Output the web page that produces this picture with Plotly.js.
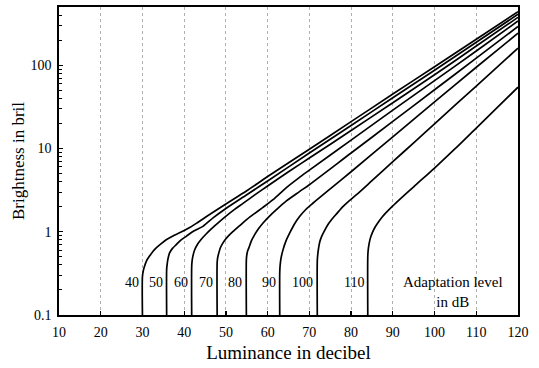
<!DOCTYPE html>
<html><head><meta charset="utf-8">
<script src="https://cdn.plot.ly/plotly-3.0.1.min.js"></script>
<style>html,body{margin:0;padding:0;background:#fff;}#chart{width:539px;height:368px;}</style>
</head><body><div id="chart"></div>
<script>
// Adaptation levels (dB) -> curve labels
const levels = ['40', '50', '60', '70', '80', '90', '100', '110'];

// Luminance (dB) and brightness (bril), one pair per adaptation level
const x40 = [30, 30, 30.2, 30.5, 31.0, 31.7, 32.5, 33.3, 34.5, 35.7, 37.3, 38.9, 41, 43, 46, 50, 55, 60, 70, 80, 90, 100, 110, 120];
const y40 = [0.1, 0.29, 0.34, 0.385, 0.45, 0.51, 0.58, 0.64, 0.72, 0.80, 0.89, 0.97, 1.1, 1.27, 1.6, 2.15, 3.1, 4.6, 9.8, 21, 45, 96, 205, 440];

const x50 = [35.8, 35.8, 35.9, 36.1, 36.5, 37.2, 38.1, 39.2, 40.5, 42.3, 44.5, 47, 50, 55, 60, 70, 80, 90, 100, 110, 120];
const y50 = [0.1, 0.355, 0.398, 0.468, 0.557, 0.631, 0.700, 0.794, 0.881, 1.023, 1.161, 1.479, 1.905, 2.786, 4.074, 8.81, 18.84, 40.74, 87.1, 188.4, 409.3];

const x60 = [41.8, 41.8, 41.9, 42.1, 42.5, 43.2, 44.1, 45.2, 46.5, 48.2, 50.1, 52, 54.1, 57, 60, 65, 70, 80, 90, 100, 110, 120];
const y60 = [0.1, 0.380, 0.447, 0.513, 0.603, 0.708, 0.813, 0.933, 1.084, 1.288, 1.549, 1.841, 2.188, 2.786, 3.548, 5.248, 7.674, 16.41, 35.48, 76.74, 169.8, 375.8];

const x70 = [47.9, 47.9, 48.0, 48.3, 48.7, 49.3, 50.0, 50.9, 52, 53.3, 54.8, 56.5, 58.8, 61.3, 64.5, 67.7, 70, 80, 90, 100, 110, 120];
const y70 = [0.1, 0.423, 0.479, 0.557, 0.646, 0.735, 0.822, 0.923, 1.035, 1.183, 1.380, 1.603, 1.950, 2.427, 3.388, 4.519, 5.495, 12.59, 28.84, 65.31, 147.9, 339.6];

const x80 = [54.9, 54.9, 55.0, 55.2, 55.5, 56.1, 56.9, 57.8, 58.9, 60.4, 62.1, 64.5, 67.7, 70, 80, 90, 100, 110, 120];
const y80 = [0.1, 0.462, 0.525, 0.589, 0.640, 0.776, 0.923, 1.084, 1.274, 1.531, 1.841, 2.344, 3.048, 3.673, 8.81, 21.13, 50.70, 121.6, 291.7];

const x90 = [62.9, 62.9, 63.0, 63.2, 63.7, 64.4, 65.3, 66.4, 67.7, 69.2, 70.9, 75, 80, 90, 100, 110, 120];
const y90 = [0.1, 0.324, 0.398, 0.479, 0.610, 0.776, 0.968, 1.230, 1.531, 1.862, 2.213, 3.273, 5.248, 13.80, 36.31, 94.41, 242.1];

const x100 = [71.9, 71.9, 72.0, 72.2, 72.5, 73.0, 73.7, 74.5, 75.3, 76.6, 78.1, 79.6, 81.3, 85, 90, 95, 100, 110, 120];
const y100 = [0.1, 0.447, 0.525, 0.631, 0.759, 0.891, 1.047, 1.230, 1.396, 1.660, 2.018, 2.371, 2.786, 4.102, 6.934, 11.70, 19.77, 56.23, 160.0];

const x110 = [84, 84, 84.1, 84.3, 84.6, 85.1, 85.8, 86.6, 87.5, 88.5, 90, 91.6, 95, 100, 105, 110, 115, 120];
const y110 = [0.1, 0.501, 0.603, 0.708, 0.832, 0.977, 1.148, 1.318, 1.514, 1.718, 2.042, 2.427, 3.467, 5.821, 10.0, 17.58, 30.9, 54.45];

// Axis ticks
const xTickVals = [10, 20, 30, 40, 50, 60, 70, 80, 90, 100, 110, 120];
const xTickText = ['10', '20', '30', '40', '50', '60', '70', '80', '90', '100', '110', '120'];
const yTickVals = [0.1, 1, 10, 100];
const yTickText = ['0.1', '1', '10', '100'];
const yMinorVals = [0.2, 0.3, 0.4, 0.5, 0.6, 0.7, 0.8, 0.9, 2, 3, 4, 5, 6, 7, 8, 9, 20, 30, 40, 50, 60, 70, 80, 90, 200, 300, 400, 500];

const xs = [x40, x50, x60, x70, x80, x90, x100, x110];
const ys = [y40, y50, y60, y70, y80, y90, y100, y110];

const FONT = 'Liberation Serif, Times New Roman, serif';

const traces = xs.map((xv, i) => ({
  type: 'scatter', mode: 'lines', x: xv, y: ys[i], name: levels[i],
  line: {color: '#000', width: 1.7, shape: 'spline', smoothing: 0.8}, hoverinfo: 'skip'
}));

const annotations = xs.map((xv, i) => ({
  x: xv[0] - 0.45, y: -0.61, xref: 'x', yref: 'y', text: levels[i],
  showarrow: false, xanchor: 'right', yanchor: 'middle',
  font: {family: FONT, size: 14, color: '#000'}
}));
annotations.push({
  x: 104.4, y: -0.72, xref: 'x', yref: 'y', text: 'Adaptation level<br>in dB',
  showarrow: false, xanchor: 'center', yanchor: 'middle', align: 'center',
  font: {family: FONT, size: 15, color: '#000'}
});

const layout = {
  width: 539, height: 368,
  margin: {l: 59, r: 21, t: 7, b: 53},
  paper_bgcolor: '#fff', plot_bgcolor: '#fff',
  showlegend: false,
  font: {family: FONT, color: '#000', size: 14},
  xaxis: {
    range: [10, 120], tickmode: 'array', tickvals: xTickVals, ticktext: xTickText,
    ticks: 'inside', ticklen: 4, tickwidth: 1.2, tickcolor: '#000',
    showline: true, linecolor: '#000', linewidth: 1.8, mirror: true,
    showgrid: true, gridcolor: '#b0b0b0', griddash: 'dot', gridwidth: 1,
    zeroline: false, ticklabelstandoff: 3,
    tickfont: {family: FONT, size: 14, color: '#000'},
    title: {text: 'Luminance in decibel', font: {family: FONT, size: 19, color: '#000'}, standoff: 7}
  },
  yaxis: {
    type: 'log', range: [-1, 2.699], tickmode: 'array', tickvals: yTickVals, ticktext: yTickText,
    ticks: 'inside', ticklen: 4, tickwidth: 1.2, tickcolor: '#000',
    minor: {tickmode: 'array', tickvals: yMinorVals, ticks: 'inside', ticklen: 3, tickcolor: '#000', tickwidth: 1, showgrid: false},
    showline: true, linecolor: '#000', linewidth: 1.8, mirror: true,
    showgrid: false, zeroline: false, ticklabelstandoff: 3,
    tickfont: {family: FONT, size: 14, color: '#000'},
    title: {text: 'Brightness in bril', font: {family: FONT, size: 17, color: '#000'}, standoff: 1}
  },
  shapes: [{
    type: 'line', xref: 'paper', x0: 0, x1: 1, yref: 'y', y0: 0, y1: 0,
    line: {color: '#b0b0b0', width: 1, dash: 'dot'}, layer: 'below'
  }],
  annotations: annotations
};

Plotly.newPlot('chart', traces, layout, {staticPlot: true, displayModeBar: false});
</script>
</body></html>
